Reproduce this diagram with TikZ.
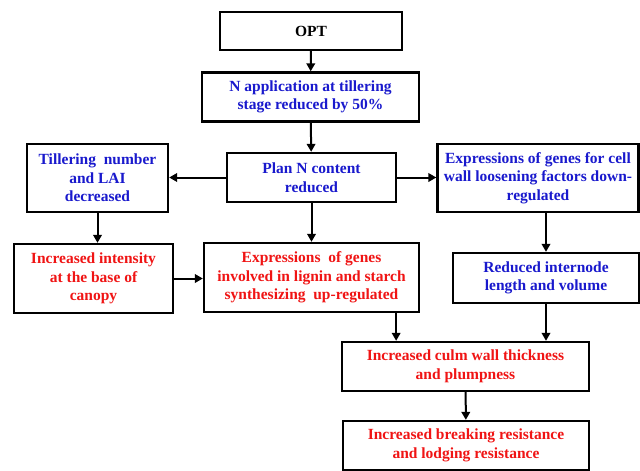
\documentclass[tikz,border=0pt]{standalone}
\usepackage{fontspec}
\setmainfont{Liberation Serif}
\usetikzlibrary{arrows.meta}
\definecolor{tblue}{RGB}{25,25,205}
\definecolor{tred}{RGB}{240,20,20}
\tikzset{
  box/.style={draw=black, line width=2.3pt, rectangle, align=center, inner sep=0pt,
    font=\fontsize{15.5}{18.5}\selectfont\bfseries},
  bluet/.style={text=tblue},
  redt/.style={text=tred},
  blk/.style={text=black},
  arr/.style={line width=2pt, -{Triangle[length=8pt,width=8.5pt]}}
}
\begin{document}
\begin{tikzpicture}[x=1pt,y=-1pt]
\useasboundingbox[fill=white] (0,0) rectangle (640,471);
\node[box,blk,minimum width=182pt,minimum height=38pt] (opt) at (311,31) {OPT};
\node[box,bluet,minimum width=217pt,minimum height=49pt] (napp) at (310.5,97) {N application at tillering\\stage reduced by 50\%};
\node[box,bluet,minimum width=169pt,minimum height=49pt] (plan) at (311.5,177.5) {Plan N content\\reduced};
\node[box,bluet,minimum width=141pt,minimum height=68pt] (till) at (97.5,178) {Tillering\ \ number\\and LAI\\decreased};
\node[box,bluet,minimum width=201pt,minimum height=68pt] (cell) at (538,178) {Expressions of genes for cell\\wall loosening factors down-\\regulated};
\node[box,redt,minimum width=159pt,minimum height=69pt] (intens) at (93.5,278.5) {Increased intensity\\at the base of\\canopy};
\node[box,redt,minimum width=215pt,minimum height=69pt] (lignin) at (311.5,277.5) {Expressions\ \ of genes\\involved in lignin and starch\\synthesizing\ \ up-regulated};
\node[box,bluet,minimum width=186pt,minimum height=50pt] (intern) at (546,278) {Reduced internode\\length and volume};
\node[box,redt,minimum width=247pt,minimum height=49pt] (culm) at (465.5,366.5) {Increased culm wall thickness\\and plumpness};
\node[box,redt,minimum width=246pt,minimum height=49pt] (brk) at (466,445.5) {Increased breaking resistance\\and lodging resistance};
\coordinate (lg) at ([xshift=-24pt]lignin.south east);
\draw[arr] (opt) -- (napp);
\draw[arr] (napp) -- (plan);
\draw[arr] (plan.west) -- (plan.west -| till.east);
\draw[arr] (plan.east) -- (plan.east -| cell.west);
\draw[arr] (plan) -- (lignin);
\draw[arr] (till.south) -- (till.south |- intens.north);
\draw[arr] (intens.east) -- (intens.east -| lignin.west);
\draw[arr] (intern.north |- cell.south) -- (intern.north);
\draw[arr] (lg) -- (lg |- culm.north);
\draw[arr] (intern.south) -- (intern.south |- culm.north);
\draw[arr] (culm) -- (brk);
\end{tikzpicture}
\end{document}
